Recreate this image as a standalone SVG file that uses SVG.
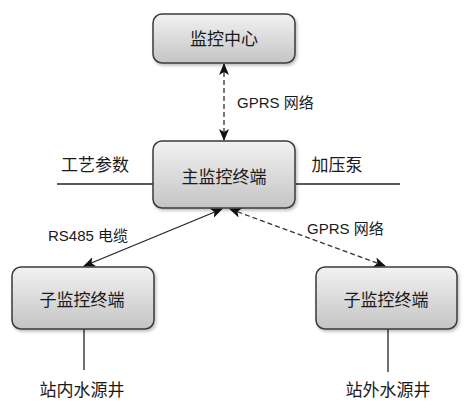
<svg xmlns="http://www.w3.org/2000/svg" width="476" height="410" viewBox="0 0 476 410">
<style>
.box{fill:url(#g);stroke:#3a3a3a;stroke-width:1.5;filter:url(#sh)}
.t{font-family:"Noto Sans CJK SC","Liberation Sans",sans-serif;font-size:17px;fill:#1a1a1a;text-anchor:middle}
.l{font-family:"Liberation Sans","Noto Sans CJK SC",sans-serif;font-size:15px;fill:#1a1a1a}
.ln{stroke:#222;stroke-width:1.3;fill:none}
.d{stroke:#333;stroke-width:1.3;fill:none;stroke-dasharray:5 3}
</style>
<defs>
<linearGradient id="g" x1="0" y1="0" x2="0" y2="1">
<stop offset="0" stop-color="#f2f2f2"/>
<stop offset="1" stop-color="#c4c4c4"/>
</linearGradient>
<filter id="sh" x="-10%" y="-10%" width="130%" height="140%">
<feDropShadow dx="1.5" dy="2" stdDeviation="1.5" flood-color="#000" flood-opacity="0.25"/>
</filter>
<marker id="a" viewBox="0 0 12 10" refX="11" refY="5" markerWidth="12" markerHeight="10" markerUnits="userSpaceOnUse" orient="auto-start-reverse">
<path d="M0,0 L12,5 L0,10 L3,5 Z" fill="#111"/>
</marker>
</defs>
<g id="connectors">
<line class="d" x1="224" y1="64" x2="224" y2="140" marker-start="url(#a)" marker-end="url(#a)"/>
<line class="ln" x1="222" y1="209" x2="84" y2="266" marker-start="url(#a)" marker-end="url(#a)"/>
<line class="d" x1="230" y1="209" x2="385" y2="266" marker-start="url(#a)" marker-end="url(#a)"/>
<line class="ln" x1="57" y1="184" x2="153" y2="184"/>
<line class="ln" x1="296" y1="184" x2="400" y2="184"/>
<line class="ln" x1="84" y1="329" x2="84" y2="370"/>
<line class="ln" x1="388" y1="329" x2="388" y2="372"/>
</g>
<g id="labels">
<text class="l" x="237" y="108">GPRS 网络</text>
<text class="l" x="48" y="241">RS485 电缆</text>
<text class="l" x="307" y="234">GPRS 网络</text>
<text class="t" x="95" y="171">工艺参数</text>
<text class="t" x="337" y="171">加压泵</text>
<text class="t" x="82" y="396">站内水源井</text>
<text class="t" x="388" y="396">站外水源井</text>
</g>
<g id="center">
<rect class="box" x="153" y="14" width="142" height="49" rx="9"/>
<text class="t" x="224" y="45">监控中心</text>
</g>
<g id="main">
<rect class="box" x="153" y="141" width="142" height="67" rx="9"/>
<text class="t" x="224" y="183">主监控终端</text>
</g>
<g id="sub1">
<rect class="box" x="12" y="267" width="142" height="62" rx="9"/>
<text class="t" x="82" y="306">子监控终端</text>
</g>
<g id="sub2">
<rect class="box" x="316" y="267" width="141" height="62" rx="9"/>
<text class="t" x="386" y="306">子监控终端</text>
</g>
</svg>
